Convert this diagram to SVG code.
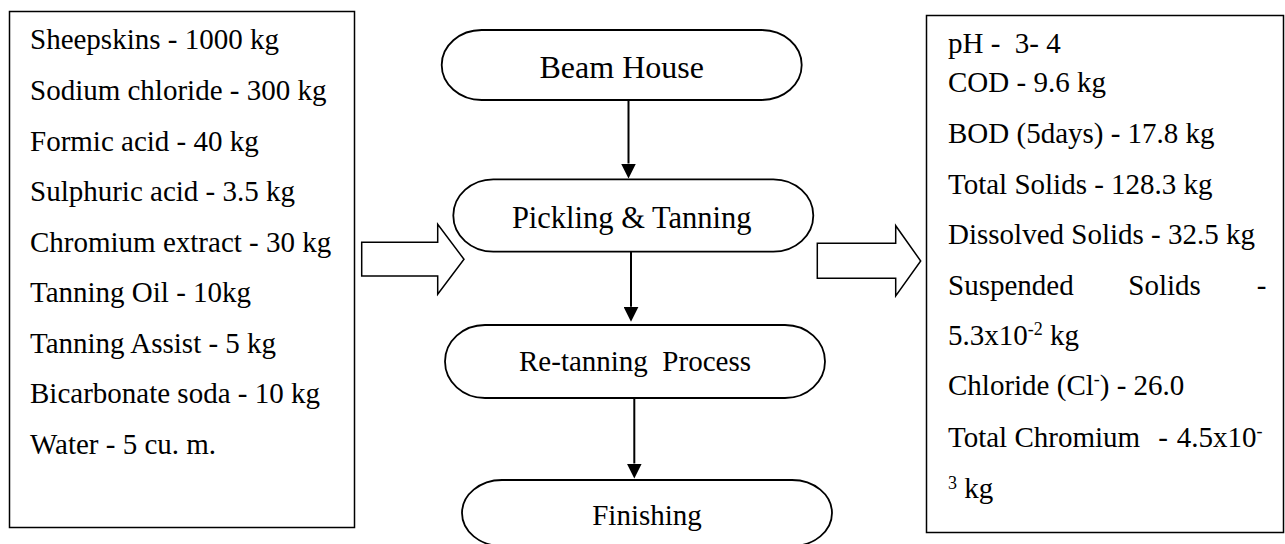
<svg xmlns="http://www.w3.org/2000/svg" width="1285" height="544" viewBox="0 0 1285 544">
  <style>
    text { font-family: "Liberation Serif", "Times New Roman", serif; fill: #000; }
    .body { font-size: 29px; }
    .sup { font-size: 18px; }
    .box { fill: #fff; stroke: #000; stroke-width: 1.5; }
    .term { fill: #fff; stroke: #000; stroke-width: 1.8; }
    .flow { fill: none; stroke: #000; stroke-width: 2; }
    .block { fill: #fff; stroke: #000; stroke-width: 1.5; stroke-linejoin: miter; }
  </style>
  <defs>
    <marker id="head" viewBox="0 0 10 10" refX="0" refY="5" markerWidth="15" markerHeight="15" markerUnits="userSpaceOnUse" orient="auto">
      <path d="M0,0 L10,5 L0,10 Z" fill="#000"/>
    </marker>
  </defs>

  <rect width="1285" height="544" fill="#fff"/>

  <!-- inputs -->
  <g id="inputs">
    <rect class="box" x="9.5" y="11.5" width="345" height="516"/>
    <text class="body" x="30" y="49">Sheepskins - 1000 kg</text>
    <text class="body" x="30" y="100">Sodium chloride - 300 kg</text>
    <text class="body" x="30" y="150.5">Formic acid - 40 kg</text>
    <text class="body" x="30" y="201">Sulphuric acid - 3.5 kg</text>
    <text class="body" x="30" y="251.5">Chromium extract - 30 kg</text>
    <text class="body" x="30" y="302">Tanning Oil - 10kg</text>
    <text class="body" x="30" y="352.5">Tanning Assist - 5 kg</text>
    <text class="body" x="30" y="403">Bicarbonate soda - 10 kg</text>
    <text class="body" x="30" y="453.5">Water - 5 cu. m.</text>
  </g>

  <!-- process steps -->
  <g id="beam-house">
    <rect class="term" x="441.7" y="30" width="360" height="70" rx="40" ry="35"/>
    <text x="621.7" y="78.3" font-size="32" text-anchor="middle">Beam House</text>
  </g>
  <g id="pickling-tanning">
    <rect class="term" x="453.3" y="179.3" width="360" height="72.4" rx="40" ry="36.2"/>
    <text x="631.7" y="228.3" font-size="30.5" text-anchor="middle">Pickling &amp; Tanning</text>
  </g>
  <g id="re-tanning">
    <rect class="term" x="445" y="325" width="380" height="73" rx="40" ry="36.5"/>
    <text class="body" x="635" y="371" text-anchor="middle" xml:space="preserve">Re-tanning  Process</text>
  </g>
  <g id="finishing">
    <rect class="term" x="462" y="480" width="370" height="66" rx="40" ry="33"/>
    <text class="body" x="647" y="525" text-anchor="middle">Finishing</text>
  </g>

  <!-- outputs -->
  <g id="effluent">
    <rect class="box" x="926.5" y="15.5" width="357" height="517"/>
    <text class="body" x="948" y="53" xml:space="preserve">pH -  3- 4</text>
    <text class="body" x="948" y="92">COD - 9.6 kg</text>
    <text class="body" x="948" y="143">BOD (5days) - 17.8 kg</text>
    <text class="body" x="948" y="194">Total Solids - 128.3 kg</text>
    <text class="body" x="948" y="244">Dissolved Solids - 32.5 kg</text>
    <text class="body" y="295"><tspan x="948">Suspended</tspan><tspan x="1128.3">Solids</tspan><tspan x="1256.7">-</tspan></text>
    <text class="body" x="948" y="345">5.3x10<tspan class="sup" dy="-10">-2</tspan><tspan dy="10"> kg</tspan></text>
    <text class="body" x="948" y="395">Chloride (Cl<tspan class="sup" dy="-10">-</tspan><tspan dy="10">) - 26.0</tspan></text>
    <text class="body" y="447.3"><tspan x="948">Total Chromium</tspan><tspan x="1158.3">-</tspan><tspan x="1176.7">4.5x10</tspan><tspan class="sup" dy="-10">-</tspan></text>
    <text class="body" x="948" y="498.3"><tspan class="sup" dy="-9">3</tspan><tspan dy="9"> kg</tspan></text>
  </g>

  <!-- connectors -->
  <g id="connectors">
    <path class="flow" d="M628.5,100 V163.5" marker-end="url(#head)"/>
    <path class="flow" d="M631,252 V306.7" marker-end="url(#head)"/>
    <path class="flow" d="M634.3,398 V463.5" marker-end="url(#head)"/>
    <polygon class="block" points="361.7,242.3 437.7,242.3 437.7,224.3 464,259.3 437.7,294.3 437.7,276 361.7,276"/>
    <polygon class="block" points="817.3,243.3 895.7,243.3 895.7,225.7 920.7,261 895.7,296 895.7,278.3 817.3,278.3"/>
  </g>
</svg>
